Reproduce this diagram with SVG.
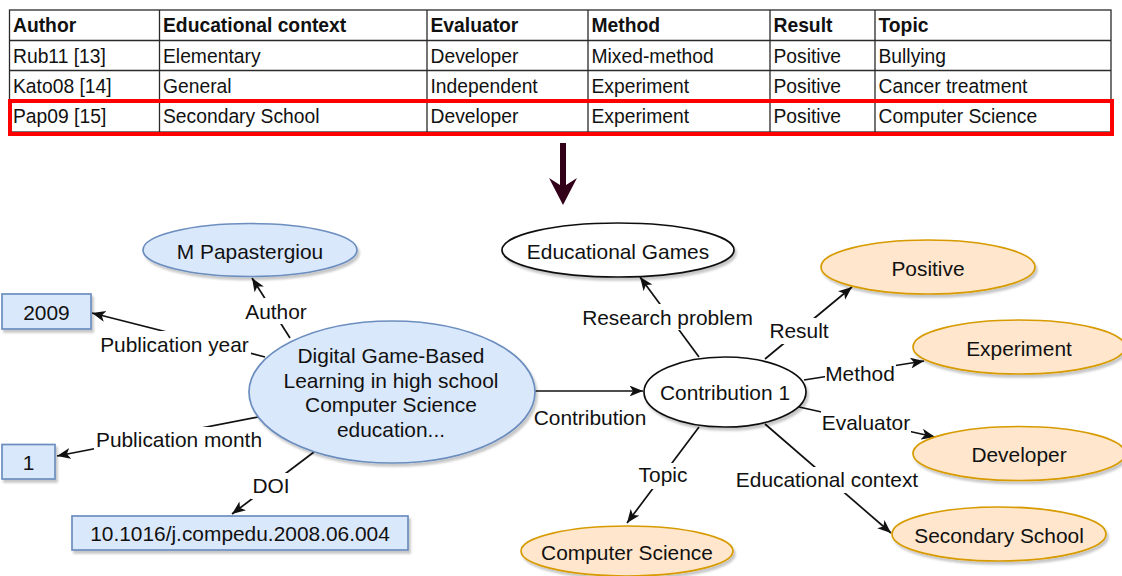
<svg xmlns="http://www.w3.org/2000/svg" width="1122" height="576" viewBox="0 0 1122 576">
  <style>
    .cell { font-family: "Liberation Sans", Arial, sans-serif; font-size: 19.3px; fill: #111; }
    .head { font-weight: bold; }
    .grid { stroke: #2a2a2a; stroke-width: 1.3; fill: none; }
    .node-text { font-family: "Liberation Sans", Arial, sans-serif; font-size: 20.9px; fill: #111; text-anchor: middle; }
    .label { font-family: "Liberation Sans", Arial, sans-serif; font-size: 20.9px; fill: #111; text-anchor: middle; }
    .label-bg { fill: #fff; stroke: none; }
    .edge { stroke: #111; stroke-width: 1.7; fill: none; marker-end: url(#arrow); }
    .blue { fill: #dae8fc; stroke: #6c8ebf; stroke-width: 1.7; filter: url(#shadow); }
    .orange { fill: #ffe6cc; stroke: #d79b00; stroke-width: 1.7; filter: url(#shadow); }
    .plain { fill: #fff; stroke: #111; stroke-width: 1.7; filter: url(#shadow); }
  </style>
  <defs>
    <filter id="shadow" x="-10%" y="-15%" width="130%" height="150%">
      <feDropShadow dx="2" dy="3" stdDeviation="1.2" flood-color="#000" flood-opacity="0.22"/>
    </filter>
    <marker id="arrow" markerUnits="userSpaceOnUse" markerWidth="15" markerHeight="12" refX="13.5" refY="5.5" orient="auto">
      <path d="M0,0 L13.5,5.5 L0,11 L3.5,5.5 Z" fill="#111"/>
    </marker>
  </defs>

  <rect width="1122" height="576" fill="#fff"/>

  <!-- comparison table -->
  <g id="table">
    <rect class="grid" x="9.5" y="10" width="1101.5" height="122"/>
    <path class="grid" d="M9.5,40.5 H1111 M9.5,70.5 H1111 M9.5,100 H1111
                          M159.5,10 V132 M427,10 V132 M588,10 V132 M770,10 V132 M875,10 V132"/>
    <g class="cell head">
      <text x="13" y="31.5">Author</text>
      <text x="163" y="31.5">Educational context</text>
      <text x="430.5" y="31.5">Evaluator</text>
      <text x="591.5" y="31.5">Method</text>
      <text x="773.5" y="31.5">Result</text>
      <text x="878.5" y="31.5">Topic</text>
    </g>
    <g class="cell">
      <text x="13" y="62.5">Rub11 [13]</text>
      <text x="163" y="62.5">Elementary</text>
      <text x="430.5" y="62.5">Developer</text>
      <text x="591.5" y="62.5">Mixed-method</text>
      <text x="773.5" y="62.5">Positive</text>
      <text x="878.5" y="62.5">Bullying</text>

      <text x="13" y="92.5">Kato08 [14]</text>
      <text x="163" y="92.5">General</text>
      <text x="430.5" y="92.5">Independent</text>
      <text x="591.5" y="92.5">Experiment</text>
      <text x="773.5" y="92.5">Positive</text>
      <text x="878.5" y="92.5">Cancer treatment</text>

      <text x="13" y="123">Pap09 [15]</text>
      <text x="163" y="123">Secondary School</text>
      <text x="430.5" y="123">Developer</text>
      <text x="591.5" y="123">Experiment</text>
      <text x="773.5" y="123">Positive</text>
      <text x="878.5" y="123">Computer Science</text>
    </g>
    <!-- highlighted row -->
    <rect x="10" y="101" width="1102" height="33" fill="none" stroke="#ff0000" stroke-width="4"/>
  </g>

  <!-- transition arrow from table to graph -->
  <path id="transition-arrow" d="M560,143 H566 V185 L577,178 L563,205 L549,178 L560,185 Z" fill="#33001a"/>

  <!-- connectors with their labels -->
  <g id="connectors">
    <path class="edge" d="M290,338 L252,278"/>
    <path class="edge" d="M265,357 L92,313"/>
    <path class="edge" d="M258,417 L57,456"/>
    <path class="edge" d="M314,452 L232,514"/>
    <path class="edge" d="M535,391 L643,391"/>
    <path class="edge" d="M699,357 L640,277"/>
    <path class="edge" d="M765,359 L852,287"/>
    <path class="edge" d="M804,380 L924,361"/>
    <path class="edge" d="M799,407 L935,437"/>
    <path class="edge" d="M765,424 L891,533"/>
    <path class="edge" d="M699,427 L627,523"/>

    <rect class="label-bg" x="245" y="298" width="62" height="26"/>
    <text class="label" x="276" y="318.5">Author</text>
    <rect class="label-bg" x="98" y="331" width="153" height="26"/>
    <text class="label" x="174.5" y="351.5">Publication year</text>
    <rect class="label-bg" x="94" y="427" width="170" height="26"/>
    <text class="label" x="179" y="446.7">Publication month</text>
    <rect class="label-bg" x="251" y="473" width="40" height="26"/>
    <text class="label" x="271" y="493">DOI</text>
    <text class="label" x="590" y="425">Contribution</text>
    <rect class="label-bg" x="580" y="304" width="175" height="26"/>
    <text class="label" x="667.5" y="325">Research problem</text>
    <rect class="label-bg" x="769" y="318" width="60" height="26"/>
    <text class="label" x="799" y="338">Result</text>
    <rect class="label-bg" x="825" y="360.5" width="71" height="26"/>
    <text class="label" x="860" y="380.7">Method</text>
    <rect class="label-bg" x="821" y="410" width="90" height="26"/>
    <text class="label" x="866" y="430">Evaluator</text>
    <rect class="label-bg" x="736" y="467" width="183" height="26"/>
    <text class="label" x="827" y="487">Educational context</text>
    <rect class="label-bg" x="637" y="463" width="53" height="26"/>
    <text class="label" x="663" y="481.7">Topic</text>
  </g>

  <!-- paper metadata -->
  <g id="node-paper">
    <ellipse class="blue" cx="392" cy="392" rx="143" ry="71"/>
    <text class="node-text" x="391" y="363">Digital Game-Based</text>
    <text class="node-text" x="391" y="387.5">Learning in high school</text>
    <text class="node-text" x="391" y="412">Computer Science</text>
    <text class="node-text" x="391" y="436.5">education...</text>
  </g>
  <g id="node-author">
    <ellipse class="blue" cx="250" cy="250" rx="107" ry="26.5"/>
    <text class="node-text" x="250" y="258.8">M Papastergiou</text>
  </g>
  <g id="node-year">
    <rect class="blue" x="2" y="294" width="89" height="35"/>
    <text class="node-text" x="46.5" y="320">2009</text>
  </g>
  <g id="node-month">
    <rect class="blue" x="2" y="444.5" width="53" height="34.5"/>
    <text class="node-text" x="28.5" y="470">1</text>
  </g>
  <g id="node-doi">
    <rect class="blue" x="72" y="516" width="336" height="34"/>
    <text class="node-text" x="240" y="541">10.1016/j.compedu.2008.06.004</text>
  </g>

  <!-- contribution and its properties -->
  <g id="node-contribution">
    <ellipse class="plain" cx="725" cy="392" rx="81" ry="35"/>
    <text class="node-text" x="725" y="400">Contribution 1</text>
  </g>
  <g id="node-research-problem">
    <ellipse class="plain" cx="618" cy="250" rx="116" ry="27"/>
    <text class="node-text" x="618" y="258.8">Educational Games</text>
  </g>
  <g id="node-result">
    <ellipse class="orange" cx="928" cy="267" rx="107" ry="27"/>
    <text class="node-text" x="928" y="275.5">Positive</text>
  </g>
  <g id="node-method">
    <ellipse class="orange" cx="1019" cy="347" rx="106" ry="27"/>
    <text class="node-text" x="1019" y="355.5">Experiment</text>
  </g>
  <g id="node-evaluator">
    <ellipse class="orange" cx="1019" cy="453.5" rx="106" ry="27"/>
    <text class="node-text" x="1019" y="462">Developer</text>
  </g>
  <g id="node-context">
    <ellipse class="orange" cx="999" cy="534" rx="107" ry="27"/>
    <text class="node-text" x="999" y="542.5">Secondary School</text>
  </g>
  <g id="node-topic">
    <ellipse class="orange" cx="627" cy="551" rx="106" ry="25"/>
    <text class="node-text" x="627" y="560">Computer Science</text>
  </g>
</svg>
